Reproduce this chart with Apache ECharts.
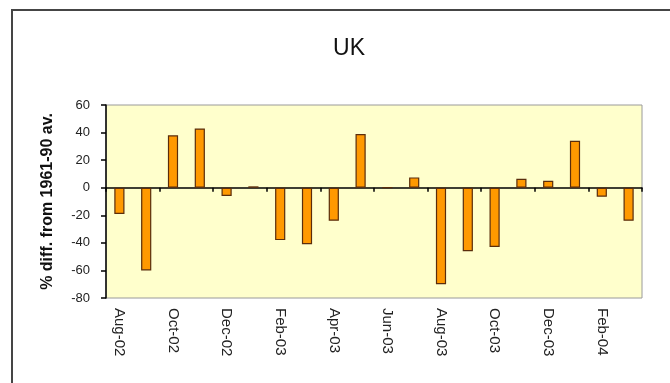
<!DOCTYPE html>
<html>
<head>
<meta charset="utf-8">
<script src="https://cdn.jsdelivr.net/npm/echarts@6/dist/echarts.min.js"></script>
<style>
  html, body { margin: 0; padding: 0; background: #fff; }
  #chart { width: 670px; height: 383px; }
</style>
</head>
<body>
<div id="chart"></div>
<script>
// Monthly rainfall anomaly for the UK, % difference from the 1961-90 average
const months = [
  'Aug-02', 'Sep-02', 'Oct-02', 'Nov-02', 'Dec-02', 'Jan-03', 'Feb-03', 'Mar-03',
  'Apr-03', 'May-03', 'Jun-03', 'Jul-03', 'Aug-03', 'Sep-03', 'Oct-03', 'Nov-03',
  'Dec-03', 'Jan-04', 'Feb-04', 'Mar-04'
];
const pctDiff = [
  -19, -60, 38, 43, -6, 1, -38, -41,
  -24, 39, 0, 7.5, -70, -46, -43, 6.5,
  5, 34, -6.5, -24
];
const yTicks = { min: -80, max: 60, step: 20 };

const font = 'Arial, "Liberation Sans", sans-serif';
const chart = echarts.init(document.getElementById('chart'), null, { renderer: 'canvas' });

chart.setOption({
  animation: false,
  backgroundColor: '#ffffff',
  title: {
    text: 'UK',
    left: 344,
    textAlign: 'center',
    top: 32,
    textStyle: { fontFamily: font, fontSize: 23, fontWeight: 'normal', color: '#111' }
  },
  graphic: [{
    type: 'rect',
    shape: { x: 12, y: 10, width: 700, height: 420 },
    style: { fill: 'none', stroke: '#454545', lineWidth: 2 },
    silent: true
  }],
  grid: {
    left: 106, right: 28, top: 105, bottom: 85,
    show: true,
    backgroundColor: '#ffffcc',
    borderColor: '#9a9a9a',
    borderWidth: 1
  },
  xAxis: [{
    // axis drawn along the zero line, ticks on every second month boundary
    type: 'category',
    data: months,
    boundaryGap: true,
    axisLine: { onZero: true, lineStyle: { color: '#000', width: 1.5 } },
    axisTick: { show: true, interval: 1, inside: false, length: 4, alignWithLabel: false,
                lineStyle: { color: '#000', width: 1.5 } },
    axisLabel: { show: false },
    splitLine: { show: false }
  }, {
    // month labels along the bottom of the plot
    type: 'category',
    data: months,
    position: 'bottom',
    boundaryGap: true,
    axisLine: { show: false, onZero: false },
    axisTick: { show: false },
    axisLabel: {
      show: true, interval: 1, rotate: -90, margin: 10,
      fontFamily: font, fontSize: 15, color: '#222'
    },
    splitLine: { show: false }
  }],
  yAxis: {
    type: 'value',
    min: yTicks.min, max: yTicks.max, interval: yTicks.step,
    name: '% diff. from 1961-90 av.',
    nameLocation: 'middle',
    nameGap: 50,
    nameTextStyle: { fontFamily: font, fontSize: 16, fontWeight: 'bold', color: '#111' },
    axisLine: { show: true, lineStyle: { color: '#000', width: 1.5 } },
    axisTick: { show: true, length: 5, lineStyle: { color: '#000', width: 1.5 } },
    axisLabel: { fontFamily: font, fontSize: 13, color: '#222', margin: 16 },
    splitLine: { show: false }
  },
  series: [{
    type: 'bar',
    xAxisIndex: 0,
    data: pctDiff,
    barWidth: '38%',
    itemStyle: { color: '#ff9900', borderColor: '#5a2d0c', borderWidth: 1.2 }
  }]
});
</script>
</body>
</html>
